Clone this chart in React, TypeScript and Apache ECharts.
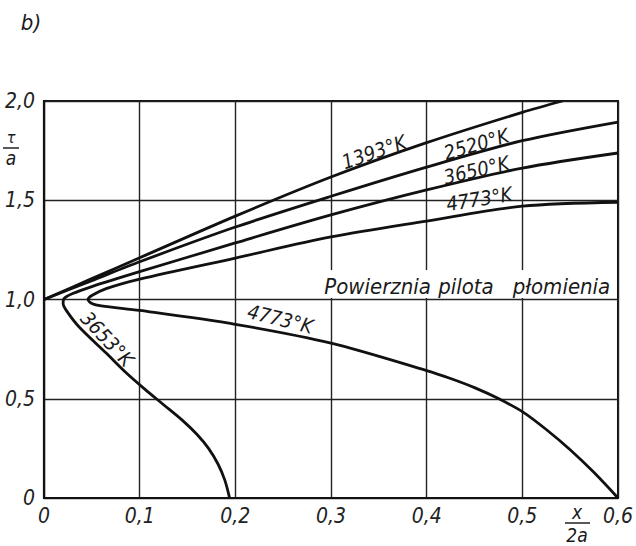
import React, { useEffect, useRef } from "react";
import * as echarts from "echarts";

// ---- data ----
const xTicks = [0, 0.1, 0.2, 0.3, 0.4, 0.5, 0.6];
const yTicks = [0, 0.5, 1.0, 1.5, 2.0];

const curve1393: number[][] = [
  [0, 1.0], [0.05, 1.105], [0.1, 1.21], [0.2, 1.42], [0.3, 1.617], [0.4, 1.79], [0.5, 1.943], [0.542, 2.0],
];
const curve2520: number[][] = [
  [0, 1.0], [0.05, 1.095], [0.1, 1.19], [0.2, 1.365], [0.3, 1.52], [0.4, 1.667], [0.5, 1.8], [0.6, 1.894],
];
const curve3653: number[][] = [
  [0.6, 1.738], [0.5, 1.662], [0.4, 1.552], [0.3, 1.426], [0.2, 1.285], [0.1, 1.14], [0.05, 1.065],
  [0.03, 1.03], [0.021, 1.005], [0.02, 0.98], [0.024, 0.94], [0.037, 0.86], [0.065, 0.73], [0.085, 0.635],
  [0.105, 0.55], [0.125, 0.47], [0.145, 0.39], [0.16, 0.32], [0.172, 0.25], [0.182, 0.17], [0.189, 0.09],
  [0.194, 0],
];
const curve4773: number[][] = [
  [0.6, 1.49], [0.5, 1.47], [0.4, 1.395], [0.3, 1.315], [0.2, 1.209], [0.1, 1.103], [0.065, 1.055],
  [0.05, 1.02], [0.046, 1.0], [0.05, 0.98], [0.06, 0.968], [0.1, 0.945], [0.2, 0.875], [0.3, 0.78],
  [0.4, 0.642], [0.425, 0.602], [0.45, 0.556], [0.475, 0.501], [0.5, 0.435], [0.525, 0.345],
  [0.55, 0.243], [0.575, 0.128], [0.6, 0],
];

const curveLabels = ["1393°K", "2520°K", "3650°K", "4773°K", "4773°K", "3653°K"];
// label anchors in data coordinates, and rotation in degrees
const labelAnchors: number[][] = [
  [0.345, 1.743], [0.452, 1.782], [0.452, 1.652], [0.455, 1.506], [0.247, 0.902], [0.066, 0.801],
];
const labelRot = [19, 16, 13, 9, -14, -47];

const surfaceWords = ["Powierznia", "pilota", "płomienia"];
const surfaceAnchors: number[][] = [[0.293, 1.068], [0.412, 1.068], [0.49, 1.068]];

const FONT = "'Liberation Sans Narrow', 'DejaVu Sans Condensed', 'DejaVu Sans', sans-serif";

const fmt = (v: number) => (v === 0 ? "0" : v.toFixed(1).replace(".", ","));

export default function App() {
  const ref = useRef<HTMLDivElement>(null);
  useEffect(() => {
    if (!ref.current) return;
    const chart = echarts.init(ref.current, null, { renderer: "svg" });
    const lineSeries = (data: number[][], name: string) => ({
      type: "line",
      name,
      data,
      smooth: 0.3,
      showSymbol: false,
      symbol: "none",
      lineStyle: { color: "#111", width: 2.8 },
      z: 3,
    });
    const axisLabel = (margin: number) => ({
      formatter: (v: number) => fmt(v),
      color: "#222",
      fontSize: 21,
      fontStyle: "italic",
      fontFamily: FONT,
      margin,
    });
    chart.setOption({
      animation: false,
      backgroundColor: "#fff",
      grid: { left: 44, right: 11, top: 101, bottom: 48, show: true, borderColor: "#111", borderWidth: 2 },
      xAxis: {
        type: "value",
        min: xTicks[0],
        max: xTicks[xTicks.length - 1],
        interval: 0.1,
        axisLine: { show: true, lineStyle: { color: "#111", width: 2.2 } },
        axisTick: { show: false },
        splitLine: { show: true, lineStyle: { color: "#222", width: 1.4 } },
        axisLabel: axisLabel(7),
      },
      yAxis: {
        type: "value",
        min: yTicks[0],
        max: yTicks[yTicks.length - 1],
        interval: 0.5,
        axisLine: { show: true, lineStyle: { color: "#111", width: 2.2 } },
        axisTick: { show: false },
        splitLine: { show: true, lineStyle: { color: "#222", width: 1.4 } },
        axisLabel: axisLabel(9),
      },
      series: [
        lineSeries(curve1393, "1393"),
        lineSeries(curve2520, "2520"),
        lineSeries(curve3653, "3653"),
        lineSeries(curve4773, "4773"),
      ],
    });

    const px = (p: number[]) => chart.convertToPixel({ gridIndex: 0 }, p) as number[];
    const textStyle = (text: string, size: number, align = "center") => ({
      text,
      fill: "#1a1a1a",
      fontSize: size,
      fontStyle: "italic",
      fontFamily: FONT,
      align,
      textAlign: align,
      verticalAlign: "middle",
      textVerticalAlign: "middle",
    });

    const elements: any[] = [];
    curveLabels.forEach((t, i) => {
      const [x, y] = px(labelAnchors[i]);
      elements.push({
        type: "text",
        x,
        y,
        rotation: (labelRot[i] * Math.PI) / 180,
        style: textStyle(t, 20),
        z: 20,
      });
    });
    // white band behind the surface label
    const b0 = px([0.287, 1.149]);
    const b1 = px([0.594, 1.008]);
    elements.push({
      type: "rect",
      shape: { x: b0[0], y: b0[1], width: b1[0] - b0[0], height: b1[1] - b0[1] },
      style: { fill: "#fff" },
      z: 15,
    });
    surfaceWords.forEach((w, i) => {
      const [x, y] = px(surfaceAnchors[i]);
      elements.push({ type: "text", x, y, style: textStyle(w, 22, "left"), z: 20 });
    });
    // panel letter
    elements.push({ type: "text", x: 31, y: 22, style: textStyle("b)", 22), z: 20 });
    // y-axis name: τ / a
    elements.push({ type: "text", x: 11, y: 137, style: textStyle("τ", 16), z: 20 });
    elements.push({ type: "line", shape: { x1: 3, y1: 148, x2: 19, y2: 148 }, style: { stroke: "#222", lineWidth: 1.5 }, z: 20 });
    elements.push({ type: "text", x: 11, y: 158, style: textStyle("a", 19), z: 20 });
    // x-axis name: x / 2a
    elements.push({ type: "text", x: 577, y: 512, style: textStyle("x", 19), z: 20 });
    elements.push({ type: "line", shape: { x1: 565, y1: 523, x2: 590, y2: 523 }, style: { stroke: "#222", lineWidth: 1.5 }, z: 20 });
    elements.push({ type: "text", x: 577, y: 535, style: textStyle("2a", 19), z: 20 });

    chart.setOption({ graphic: { elements } });
    return () => chart.dispose();
  }, []);
  return (
    <div
      ref={ref}
      style={{ position: "absolute", left: 0, top: 0, width: 636, height: 546, background: "#fff" }}
    />
  );
}
